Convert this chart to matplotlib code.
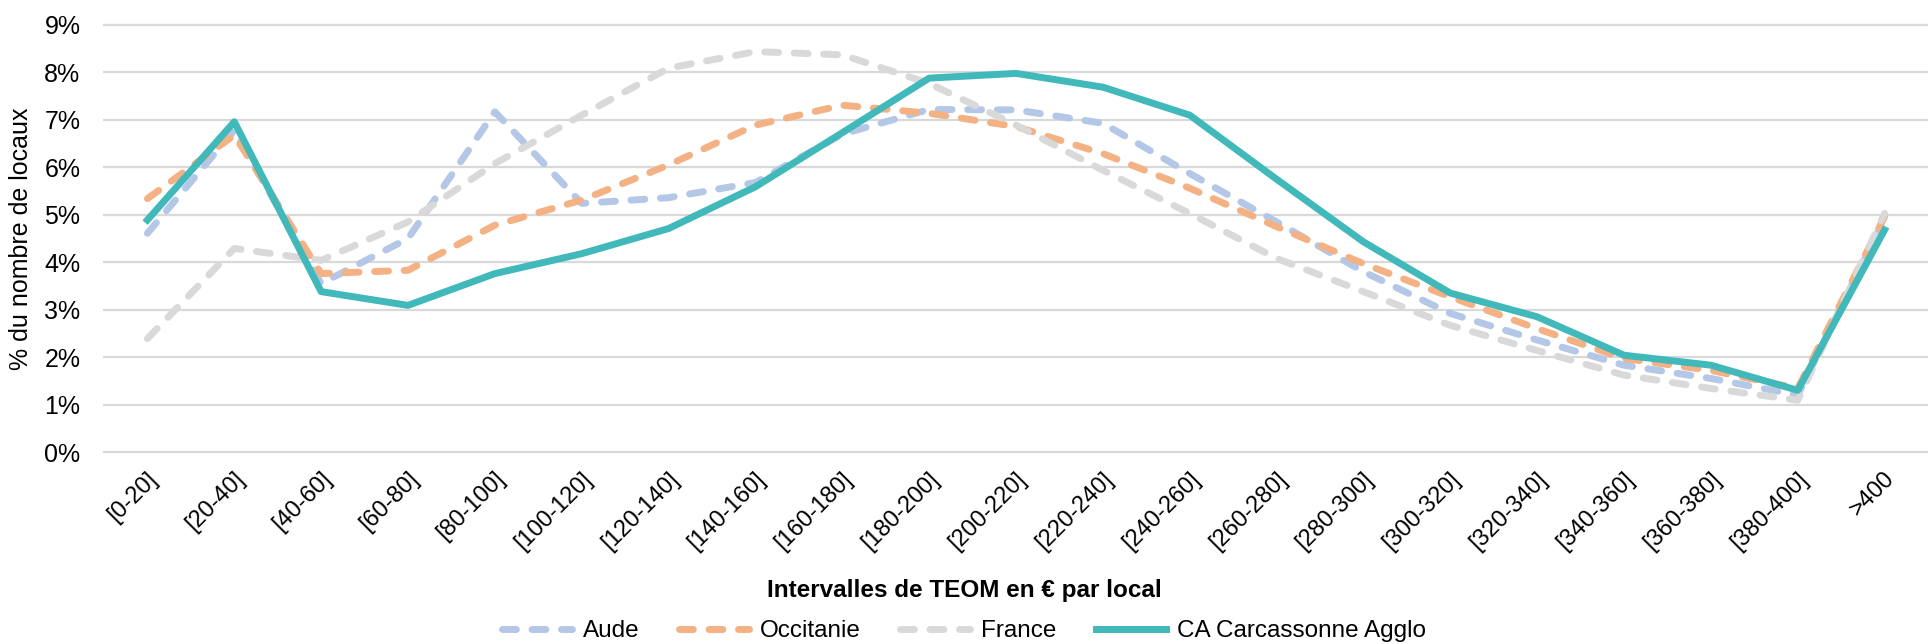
import matplotlib.pyplot as plt
from matplotlib.transforms import ScaledTranslation
from matplotlib.ticker import PercentFormatter

plt.rcParams['font.family'] = ['Liberation Sans', 'DejaVu Sans']

# Intervalles de TEOM (€ par local)
categories = ['[0-20]', '[20-40]', '[40-60]', '[60-80]', '[80-100]', '[100-120]',
              '[120-140]', '[140-160]', '[160-180]', '[180-200]', '[200-220]',
              '[220-240]', '[240-260]', '[260-280]', '[280-300]', '[300-320]',
              '[320-340]', '[340-360]', '[360-380]', '[380-400]', '>400']

# % du nombre de locaux
aude = [4.61, 6.78, 3.55, 4.50, 7.17, 5.24, 5.36, 5.68, 6.70, 7.22, 7.21, 6.93,
        5.87, 4.85, 3.80, 2.92, 2.36, 1.83, 1.55, 1.20, 4.92]
occitanie = [5.34, 6.68, 3.76, 3.83, 4.78, 5.31, 6.05, 6.89, 7.31, 7.14, 6.86, 6.29,
             5.56, 4.75, 3.97, 3.27, 2.60, 1.97, 1.72, 1.34, 4.96]
france = [2.39, 4.29, 4.04, 4.85, 6.08, 7.10, 8.09, 8.44, 8.37, 7.77, 6.89, 5.94,
          5.03, 4.08, 3.38, 2.67, 2.14, 1.62, 1.34, 1.09, 5.03]
ca_carcassonne = [4.89, 6.96, 3.38, 3.09, 3.76, 4.18, 4.71, 5.59, 6.73, 7.88, 7.98, 7.69,
                  7.10, 5.75, 4.43, 3.35, 2.85, 2.04, 1.83, 1.30, 4.68]

col_aude = '#B4C7E7'
col_occ = '#F4B183'
col_fr = '#D9D9D9'
col_ca = '#41B8B9'
dash = (0, (2.0, 2.25))
x = range(len(categories))

fig = plt.figure(figsize=(19.28, 6.44), dpi=100)
ax = fig.add_axes([104 / 1928, 1 - 452 / 644, 1 - 104 / 1928, 427 / 644])

ax.plot(x, aude, color=col_aude, lw=4, linestyle=dash, dash_capstyle='round',
        dash_joinstyle='round', label='Aude')
ax.plot(x, occitanie, color=col_occ, lw=4, linestyle=dash, dash_capstyle='round',
        dash_joinstyle='round', label='Occitanie')
ax.plot(x, france, color=col_fr, lw=4, linestyle=dash, dash_capstyle='round',
        dash_joinstyle='round', label='France')
ax.plot(x, ca_carcassonne, color=col_ca, lw=4.4, solid_joinstyle='round',
        label='CA Carcassonne Agglo', zorder=5)

ax.set_xlim(-0.5, len(categories) - 0.5)
ax.set_ylim(0, 9)
ax.set_yticks(range(0, 10))
ax.yaxis.set_major_formatter(PercentFormatter(decimals=0))
ax.grid(axis='y', color='#D9D9D9', lw=1.6)
for gl in ax.get_ygridlines():
    gl.set_clip_on(False)
ax.set_axisbelow(True)
for s in ax.spines.values():
    s.set_visible(False)

ax.set_xticks(list(x))
ax.set_xticklabels(categories, rotation=45, ha='right', va='center',
                   rotation_mode='anchor')
ax.tick_params(axis='x', length=0, pad=17, labelsize=17)
ax.tick_params(axis='y', length=0, pad=17, labelsize=18)
# décale un peu les étiquettes vers la droite, comme dans Excel
shift = ScaledTranslation(7 / 100, 0, fig.dpi_scale_trans)
for lbl in ax.get_xticklabels():
    lbl.set_transform(lbl.get_transform() + shift)

ax.set_ylabel('% du nombre de locaux', fontsize=18, labelpad=8)

fig.text(0.5, 1 - 591 / 644, 'Intervalles de TEOM en € par local', ha='center',
         va='center', fontsize=17.5, fontweight='bold')

handles, labels = ax.get_legend_handles_labels()
for h in handles:
    h.set_linewidth(5)
fig.legend(handles, labels, loc='center', bbox_to_anchor=(0.5, 1 - 631 / 644),
           ncol=4, frameon=False, fontsize=17.5, handlelength=2.9,
           handletextpad=0.45, columnspacing=1.6)

fig.savefig('out.png', dpi=100)
